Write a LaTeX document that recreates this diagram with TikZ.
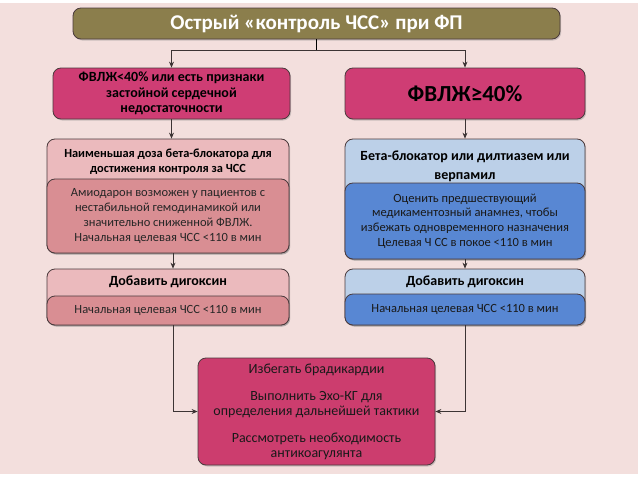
\documentclass[tikz,border=0pt]{standalone}
\usepackage{fontspec}
\setmainfont{Carlito}
\usetikzlibrary{arrows.meta,positioning,shadows}

\definecolor{bgpink}{HTML}{F3DFDD}
\definecolor{titleolive}{HTML}{8B7E4C}
\definecolor{hotpink}{HTML}{CF3D74}
\definecolor{rosehead}{HTML}{EBBABD}
\definecolor{rosebody}{HTML}{D98E93}
\definecolor{skyhead}{HTML}{BCD0E8}
\definecolor{bluebody}{HTML}{5887D3}
\definecolor{finalpink}{HTML}{CC3D6E}
\definecolor{boxline}{HTML}{4A3A3C}
\definecolor{linkgray}{HTML}{3C3434}

\begin{document}
\begin{tikzpicture}[x=1pt, y=-1pt, font=\fontsize{12.5}{14.8}\selectfont,
    >={Stealth[length=6pt,width=5pt]},
    box/.style={draw=boxline, line width=0.8pt, rounded corners=8pt, align=center,
      inner sep=0pt, drop shadow={shadow xshift=1.2pt, shadow yshift=-1.5pt, opacity=0.35}},
    titlebox/.style={box, fill=titleolive, text=white,
      font=\fontsize{21}{24}\selectfont\bfseries},
    hot/.style={box, fill=hotpink, text=black, font=\fontsize{14}{15.8}\selectfont\bfseries},
    rosebox/.style={box, fill=rosehead},
    rosenote/.style={box, fill=rosebody, text=black!85},
    skybox/.style={box, fill=skyhead},
    bluenote/.style={box, fill=bluebody, text=black!90},
    headtxt/.style={align=center, font=\fontsize{12.4}{15}\selectfont\bfseries},
    link/.style={draw=linkgray, line width=0.7pt},
    stem/.style={draw=black, line width=1.6pt}]

  % page and background
  \useasboundingbox (0,0) rectangle (638,479);
  \fill[bgpink] (0,3) rectangle (638,474);

  % title
  \node[titlebox, minimum width=487pt, minimum height=31pt] (title) at (316.5,23.5)
    {Острый «контроль ЧСС» при ФП};

  % first split on ejection fraction
  \node[hot, minimum width=237pt, minimum height=51pt] (lowef) at (171.5,93.5)
    {ФВЛЖ<40\% или есть признаки\\ застойной сердечной\\ недостаточности};
  \node[hot, minimum width=240pt, minimum height=51pt,
    font=\fontsize{23}{26}\selectfont\bfseries] (highef) at (465,93.5) {ФВЛЖ≥40\%};

  % left branch
  \node[rosebox, minimum width=242pt, minimum height=114pt] (lowdose) at (168,196) {};
  \node[headtxt] (lowdosehead) at (168,162)
    {Наименьшая доза бета-блокатора для\\ достижения контроля за ЧСС};
  \node[rosenote, minimum width=242pt, minimum height=74pt] (lowdosenote) at (168,216)
    {Амиодарон возможен у пациентов с\\ нестабильной гемодинамикой или\\
     значительно сниженной ФВЛЖ.\\ Начальная целевая ЧСС <110 в мин};
  \node[rosebox, minimum width=242pt, minimum height=56pt] (ldig) at (168,297) {};
  \node[headtxt, font=\fontsize{14}{16}\selectfont\bfseries] (ldighead) at (168,282)
    {Добавить дигоксин};
  \node[rosenote, minimum width=242pt, minimum height=29pt] (ldignote) at (168,310.5)
    {Начальная целевая ЧСС <110 в мин};

  % right branch
  \node[skybox, minimum width=240pt, minimum height=120pt] (highdrug) at (465,199) {};
  \node[headtxt, font=\fontsize{14}{19}\selectfont\bfseries] (highdrughead) at (465,166)
    {Бета-блокатор или дилтиазем или\\ верпамил};
  \node[bluenote, minimum width=240pt, minimum height=76pt] (highdrugnote) at (465,221)
    {Оценить предшествующий\\ медикаментозный анамнез, чтобы\\
     избежать одновременного назначения\\ Целевая Ч СС в покое <110 в мин};
  \node[skybox, minimum width=240pt, minimum height=56pt] (rdig) at (465,297) {};
  \node[headtxt, font=\fontsize{14}{16}\selectfont\bfseries] (rdighead) at (465,282)
    {Добавить дигоксин};
  \node[bluenote, minimum width=240pt, minimum height=31pt] (rdignote) at (465,309.5)
    {Начальная целевая ЧСС <110 в мин};

  % common end
  \node[box, fill=finalpink, text=black!90, minimum width=237pt, minimum height=107pt,
    font=\fontsize{14}{14.5}\selectfont] (final) at (316.5,411.5)
    {Избегать брадикардии\\[13pt] Выполнить Эхо-КГ для\\ определения дальнейшей тактики\\[13pt]
     Рассмотреть необходимость\\ антикоагулянта};

  % connectors
  \draw[stem] (title.south) -- ++(0,11) coordinate (split);
  \draw[link, ->] (split) -| (lowef.north);
  \draw[link, ->] (split) -| (highef.north);
  \draw[link, ->] (lowef.south) -- (lowef.south |- lowdose.north);
  \draw[link, ->] (highef.south) -- (highef.south |- highdrug.north);
  \draw[link, ->] ([xshift=5pt]lowdosenote.south) -- ([xshift=5pt]ldig.north);
  \draw[link, ->] (highdrugnote.south) -- (rdig.north);
  \draw[link, ->] ([xshift=5pt]ldignote.south) |- (final.west);
  \draw[link, ->] (rdignote.south) |- (final.east);
\end{tikzpicture}
\end{document}
